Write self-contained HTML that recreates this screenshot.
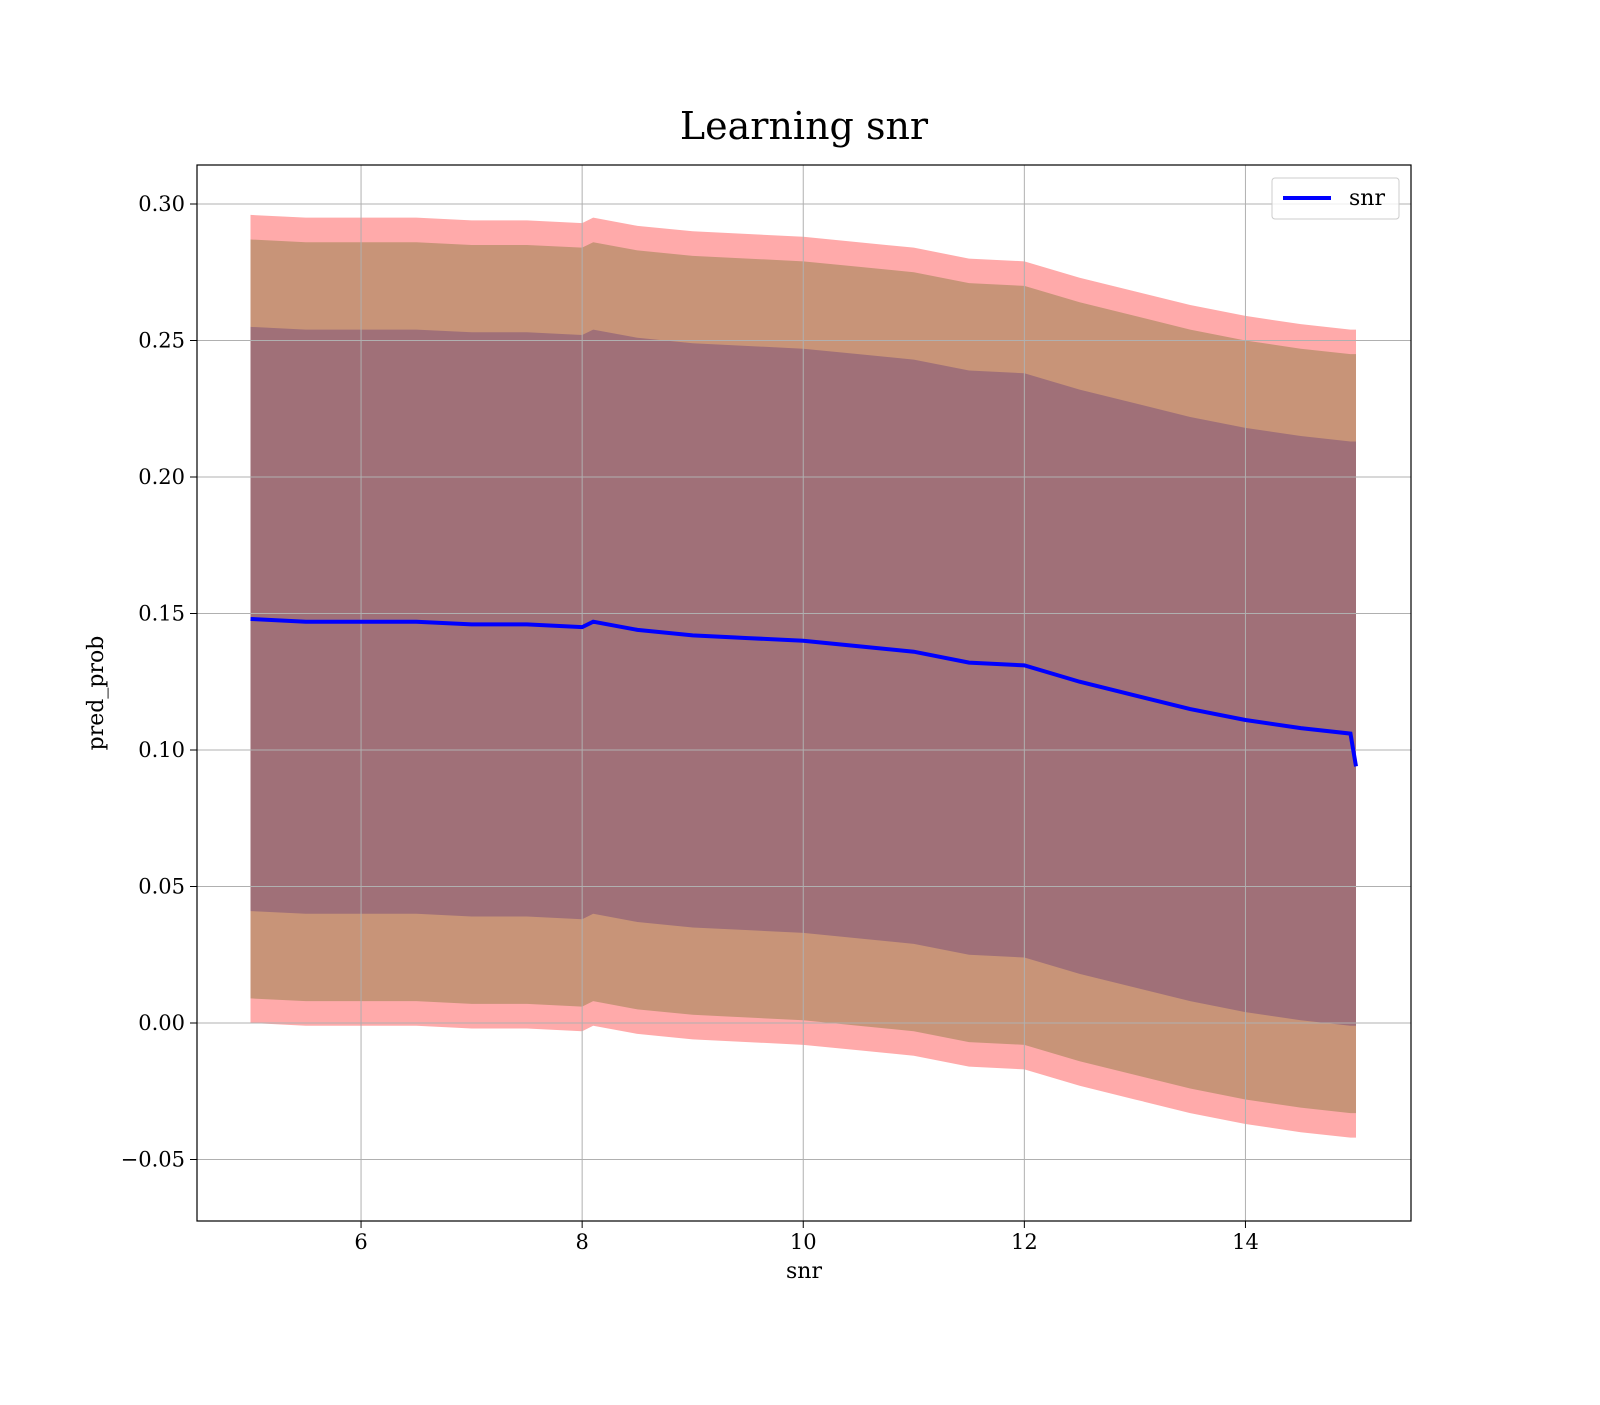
<!DOCTYPE html>
<html><head><meta charset="utf-8"><style>
body{margin:0;background:#fff;}
svg text{font-family:"DejaVu Serif","Liberation Serif",serif;fill:#000;}
</style></head><body>
<svg id="chart" width="1600" height="1400" xmlns="http://www.w3.org/2000/svg">
<rect width="1600" height="1400" fill="#fff"/>
<text x="804" y="139" font-size="38" text-anchor="middle">Learning snr</text>
<g id="bands"></g>
<g id="grid"></g>
<path id="meanline" fill="none" stroke="#0000ff" stroke-width="4"/>
<rect x="197" y="165" width="1214" height="1056" fill="none" stroke="#000" stroke-width="1.2"/>
<g id="ticks"></g>
<text x="804" y="1278" font-size="22" text-anchor="middle">snr</text>
<text transform="translate(103,693) rotate(-90)" font-size="22" text-anchor="middle">pred_prob</text>
<g>
<rect x="1272" y="178" width="127" height="41" rx="3" fill="#fff" fill-opacity="0.8" stroke="#ccc"/>
<line x1="1283" y1="198" x2="1331" y2="198" stroke="#0000ff" stroke-width="4"/>
<text x="1349" y="205" font-size="22">snr</text>
</g>
</svg>
<script>
const xs=[5,5.5,6,6.5,7,7.5,8,8.1,8.5,9,9.5,10,10.5,11,11.5,12,12.5,13,13.5,14,14.5,14.95,15];
const meanVals=[0.148,0.147,0.147,0.147,0.146,0.146,0.145,0.147,0.144,0.142,0.141,0.140,0.138,0.136,0.132,0.131,0.125,0.120,0.115,0.111,0.108,0.106,0.094];
const innerHalf=[0.107,0.107,0.107,0.107,0.107,0.107,0.107,0.107,0.107,0.107,0.107,0.107,0.107,0.107,0.107,0.107,0.107,0.107,0.107,0.107,0.107,0.107,0.107];
const middleHalf=[0.139,0.139,0.139,0.139,0.139,0.139,0.139,0.139,0.139,0.139,0.139,0.139,0.139,0.139,0.139,0.139,0.139,0.139,0.139,0.139,0.139,0.139,0.139];
const outerHalf=[0.148,0.148,0.148,0.148,0.148,0.148,0.148,0.148,0.148,0.148,0.148,0.148,0.148,0.148,0.148,0.148,0.148,0.148,0.148,0.148,0.148,0.148,0.148];
const xTicks=[6,8,10,12,14];
const yTicks=[-0.05,0,0.05,0.10,0.15,0.20,0.25,0.30];
const yTickLabels=["\u22120.05","0.00","0.05","0.10","0.15","0.20","0.25","0.30"];
const X=v=>250.5+(v-5)*110.55;
const Y=v=>1023-v*2730;
const NS="http://www.w3.org/2000/svg";
function band(half,fill,name){
  let up=xs.map((x,i)=>X(x)+","+Y(meanVals[Math.min(i,xs.length-2)]+half[i]));
  let lo=xs.map((x,i)=>X(x)+","+Y(meanVals[Math.min(i,xs.length-2)]-half[i])).reverse();
  const p=document.createElementNS(NS,"polygon");
  p.setAttribute("points",up.concat(lo).join(" "));
  p.setAttribute("fill",fill);
  
  
  document.getElementById("bands").appendChild(p);
}
band(outerHalf,"#ffaaaa","outer-band");
band(middleHalf,"#c89478","middle-band");
band(innerHalf,"#a07078","inner-band");
const g=document.getElementById("grid"),t=document.getElementById("ticks");
xTicks.forEach(v=>{
  const l=document.createElementNS(NS,"line");
  l.setAttribute("x1",X(v));l.setAttribute("x2",X(v));l.setAttribute("y1",165);l.setAttribute("y2",1221);
  l.setAttribute("stroke","#b0b0b0");l.setAttribute("stroke-width","1");
  
  
  g.appendChild(l);
  const tk=document.createElementNS(NS,"line");
  tk.setAttribute("x1",X(v));tk.setAttribute("x2",X(v));tk.setAttribute("y1",1221);tk.setAttribute("y2",1228);tk.setAttribute("stroke","#000");
  
  
  t.appendChild(tk);
  const tx=document.createElementNS(NS,"text");
  tx.setAttribute("x",X(v));tx.setAttribute("y",1249);tx.setAttribute("font-size","21");tx.setAttribute("text-anchor","middle");
  tx.textContent=v;
  
  
  t.appendChild(tx);
});
yTicks.forEach((v,i)=>{
  const l=document.createElementNS(NS,"line");
  l.setAttribute("x1",197);l.setAttribute("x2",1411);l.setAttribute("y1",Y(v));l.setAttribute("y2",Y(v));
  l.setAttribute("stroke","#b0b0b0");l.setAttribute("stroke-width","1");
  
  
  g.appendChild(l);
  const tk=document.createElementNS(NS,"line");
  tk.setAttribute("x1",190);tk.setAttribute("x2",197);tk.setAttribute("y1",Y(v));tk.setAttribute("y2",Y(v));tk.setAttribute("stroke","#000");
  
  
  t.appendChild(tk);
  const tx=document.createElementNS(NS,"text");
  tx.setAttribute("x",185);tx.setAttribute("y",Y(v)+7);tx.setAttribute("font-size","21");tx.setAttribute("text-anchor","end");
  tx.textContent=yTickLabels[i];
  
  
  t.appendChild(tx);
});
document.getElementById("meanline").setAttribute("d",xs.map((x,i)=>(i?"L":"M")+X(x)+","+Y(meanVals[i])).join(""));
</script>
</body></html>
